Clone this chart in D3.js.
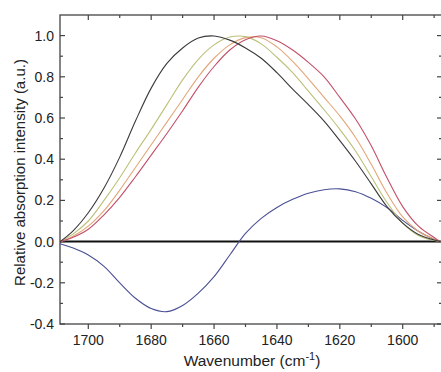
<!DOCTYPE html>
<html>
<head>
<meta charset="utf-8">
<script src="https://cdn.jsdelivr.net/npm/d3@7"></script>
<style>
  body { margin: 0; background: #fff; }
  text { font-family: Arial, "Liberation Sans", sans-serif; fill: #222; }
</style>
</head>
<body>
<svg id="chart" width="441" height="372"></svg>
<script>
// wavenumber grid (cm-1) shared by all spectra
var wavenumbers = [1709,1705,1700,1695,1690,1685,1680,1675,1670,1665,1660,1655,1650,1645,1640,1635,1630,1625,1620,1615,1610,1605,1600,1595,1590,1588];

// spectra
var blackSeries  = [0,0.05,0.14,0.26,0.41,0.585,0.745,0.865,0.94,0.988,0.998,0.978,0.94,0.89,0.82,0.74,0.665,0.585,0.49,0.39,0.28,0.17,0.09,0.035,0.008,0];
var greenSeries  = [0,0.035,0.10,0.20,0.31,0.43,0.545,0.665,0.785,0.885,0.955,0.993,0.995,0.96,0.895,0.82,0.73,0.64,0.545,0.44,0.315,0.19,0.09,0.03,0.005,0];
var orangeSeries = [0,0.025,0.075,0.15,0.25,0.36,0.47,0.58,0.69,0.80,0.89,0.955,0.99,0.99,0.945,0.875,0.79,0.70,0.61,0.505,0.375,0.235,0.12,0.05,0.012,0];
var redSeries    = [0,0.02,0.06,0.13,0.215,0.315,0.42,0.525,0.635,0.75,0.85,0.93,0.98,0.998,0.975,0.93,0.87,0.80,0.70,0.595,0.465,0.31,0.17,0.075,0.02,0];
var blueSeries   = [-0.01,-0.03,-0.065,-0.12,-0.2,-0.275,-0.325,-0.34,-0.31,-0.25,-0.17,-0.065,0.04,0.113,0.166,0.205,0.235,0.252,0.256,0.242,0.21,0.165,0.103,0.05,0.012,0];

var majorX = [1700,1680,1660,1640,1620,1600];
var minorX = [1690,1670,1650,1630,1610,1590];
var majorY = [-0.4,-0.2,0.0,0.2,0.4,0.6,0.8,1.0];
var minorY = [-0.3,-0.1,0.1,0.3,0.5,0.7,0.9];

var svg = d3.select("#chart");
var pL = 60, pR = 442, pT = 15, pB = 324;

// reversed wavenumber axis
var x = d3.scaleLinear().domain([1709, 1587.5]).range([pL, pR]);
var y = d3.scaleLinear().domain([-0.4, 1.1]).range([pB, pT]);

var axisColor = "#444";

// frame
svg.append("rect")
  .attr("x", pL).attr("y", pT)
  .attr("width", pR - pL).attr("height", pB - pT)
  .attr("fill", "none").attr("stroke", axisColor).attr("stroke-width", 1.3);

// zero line
svg.append("line")
  .attr("x1", pL).attr("x2", pR)
  .attr("y1", y(0)).attr("y2", y(0))
  .attr("stroke", "#111").attr("stroke-width", 2);

// ticks
var tk = svg.append("g").attr("stroke", axisColor).attr("stroke-width", 1.2);
majorX.forEach(function(d){
  tk.append("line").attr("x1", x(d)).attr("x2", x(d)).attr("y1", pB).attr("y2", pB + 5);
  tk.append("line").attr("x1", x(d)).attr("x2", x(d)).attr("y1", pT).attr("y2", pT + 5);
});
minorX.forEach(function(d){
  tk.append("line").attr("x1", x(d)).attr("x2", x(d)).attr("y1", pB).attr("y2", pB + 3);
  tk.append("line").attr("x1", x(d)).attr("x2", x(d)).attr("y1", pT).attr("y2", pT + 3);
});
majorY.forEach(function(d){
  tk.append("line").attr("x1", pL).attr("x2", pL + 5).attr("y1", y(d)).attr("y2", y(d));
  tk.append("line").attr("x1", pR).attr("x2", pR - 5).attr("y1", y(d)).attr("y2", y(d));
});
minorY.forEach(function(d){
  tk.append("line").attr("x1", pL).attr("x2", pL + 3).attr("y1", y(d)).attr("y2", y(d));
  tk.append("line").attr("x1", pR).attr("x2", pR - 3).attr("y1", y(d)).attr("y2", y(d));
});

// tick labels
svg.selectAll(".xl").data(majorX).enter().append("text")
  .attr("x", function(d){ return x(d); }).attr("y", pB + 21)
  .attr("text-anchor", "middle").attr("font-size", 14)
  .text(function(d){ return d; });
svg.selectAll(".yl").data(majorY).enter().append("text")
  .attr("x", pL - 6).attr("y", function(d){ return y(d) + 5; })
  .attr("text-anchor", "end").attr("font-size", 14)
  .text(function(d){ return d.toFixed(1); });

// axis titles
svg.append("text")
  .attr("transform", "translate(25," + ((pT + pB) / 2 + 3) + ") rotate(-90)")
  .attr("text-anchor", "middle").attr("font-size", 15)
  .text("Relative absorption intensity (a.u.)");
var xt = svg.append("text")
  .attr("x", 252).attr("y", 366)
  .attr("text-anchor", "middle").attr("font-size", 15.5);
xt.append("tspan").text("Wavenumber (cm");
xt.append("tspan").attr("dy", -6).attr("font-size", 11).text("-1");
xt.append("tspan").attr("dy", 6).text(")");

// spectra
var line = d3.line()
  .x(function(d){ return x(d[0]); })
  .y(function(d){ return y(d[1]); })
  .curve(d3.curveCatmullRom.alpha(0.5));

var series = [
  { values: blueSeries,   color: "#4b4f95" },
  { values: greenSeries,  color: "#bcc078" },
  { values: orangeSeries, color: "#e3a678" },
  { values: redSeries,    color: "#c2506a" },
  { values: blackSeries,  color: "#3a3a3a" }
];

svg.append("g").selectAll("path")
  .data(series)
  .enter()
  .append("path")
    .attr("fill", "none")
    .attr("stroke", function(d){ return d.color; })
    .attr("stroke-width", 1.1)
    .attr("d", function(d){
      return line(wavenumbers.map(function(w, i){ return [w, d.values[i]]; }));
    });
</script>
</body>
</html>
